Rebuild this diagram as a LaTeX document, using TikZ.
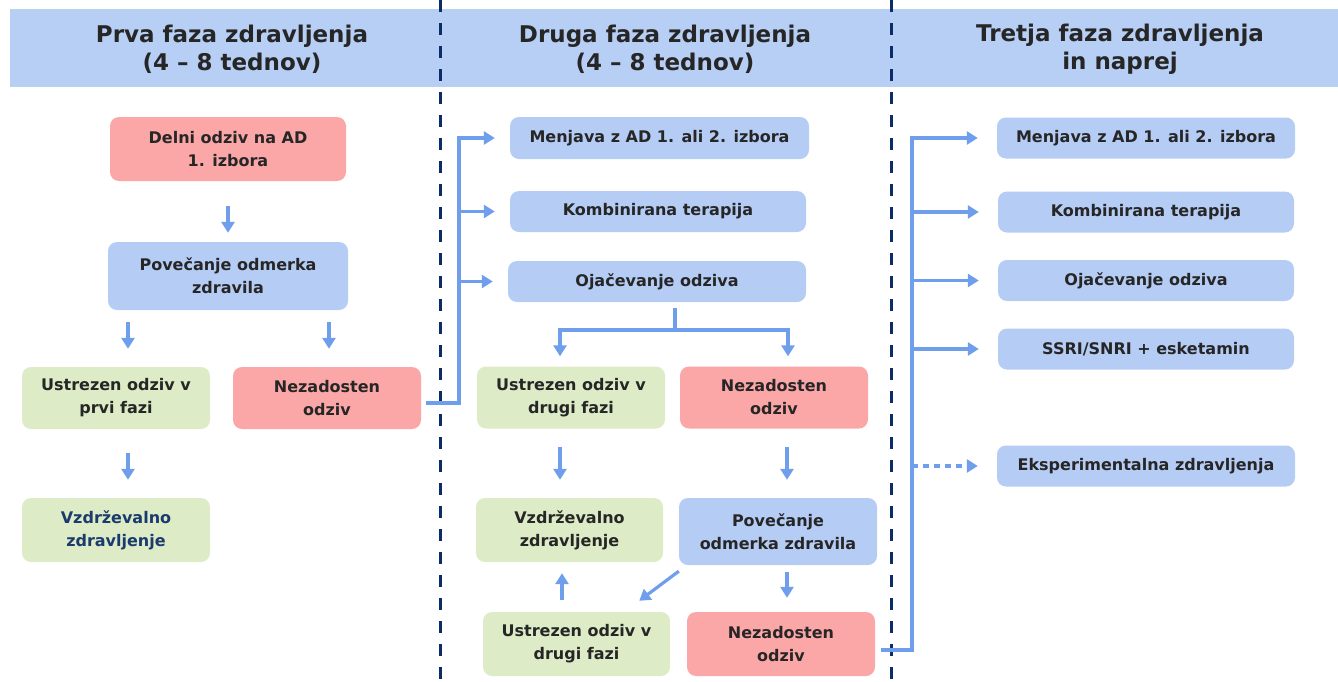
\documentclass[tikz,border=0pt]{standalone}
\usepackage{fontspec}
\setmainfont{DejaVu Sans}
\usetikzlibrary{arrows.meta}
\definecolor{hdrblue}{HTML}{B7CEF5}
\definecolor{boxblue}{HTML}{B5CCF5}
\definecolor{boxred}{HTML}{FBA7A7}
\definecolor{boxgreen}{HTML}{DDECC6}
\definecolor{linkblue}{HTML}{6F9FEC}
\definecolor{divnavy}{HTML}{0C2C68}
\definecolor{txtgray}{HTML}{262626}
\definecolor{txtnavy}{HTML}{1B3A6E}
\tikzset{
  box/.style={rounded corners=9pt, align=center, inner sep=0pt, text=txtgray,
    font=\bfseries\fontsize{16}{23}\selectfont},
  bluebox/.style={box, fill=boxblue},
  redbox/.style={box, fill=boxred},
  greenbox/.style={box, fill=boxgreen},
  title/.style={align=center, text=txtgray, font=\bfseries\fontsize{23}{28}\selectfont},
  conn/.style={draw=linkblue, line width=3.2pt},
  arr/.style={conn, -{Triangle[width=13pt,length=11pt]}},
  divider/.style={draw=divnavy, line width=3pt, dash pattern=on 12pt off 11pt},
}
\begin{document}
\begin{tikzpicture}[x=1pt,y=-1pt]
  \useasboundingbox (0,0) rectangle (1338,681);
  % header band
  \fill[hdrblue] (10,9) rectangle (1338,87);
  \node[title] (t1) at (232,49) {Prva faza zdravljenja\\(4 -- 8 tednov)};
  \node[title] (t2) at (665,49) {Druga faza zdravljenja\\(4 -- 8 tednov)};
  \node[title] (t3) at (1120,49) {Tretja faza zdravljenja\\in naprej};
  \draw[divider] (440,0) -- (440,681);
  \draw[divider] (891,0) -- (891,681);
  % first phase
  \node[redbox, minimum width=236, minimum height=64] (del1) at (228,149) {Delni odziv na AD\\1. izbora};
  \node[bluebox, minimum width=240, minimum height=68] (pov1) at (228,276) {Povečanje odmerka\\zdravila};
  \node[greenbox, minimum width=188, minimum height=62] (ust1) at (116,398) {Ustrezen odziv v\\prvi fazi};
  \node[redbox, minimum width=188, minimum height=62] (nez1) at (327,398) {Nezadosten\\odziv};
  \node[greenbox, minimum width=188, minimum height=64, text=txtnavy] (vzd1) at (116,530) {Vzdrževalno\\zdravljenje};
  % second phase
  \node[bluebox, minimum width=299, minimum height=42] (men2) at (659.5,138) {Menjava z AD 1. ali 2. izbora};
  \node[bluebox, minimum width=296, minimum height=41] (kom2) at (658,211.5) {Kombinirana terapija};
  \node[bluebox, minimum width=298, minimum height=41] (oja2) at (657,281.5) {Ojačevanje odziva};
  \node[greenbox, minimum width=188, minimum height=62] (ust2) at (571,397.5) {Ustrezen odziv v\\drugi fazi};
  \node[redbox, minimum width=188, minimum height=62] (nez2) at (774,397.5) {Nezadosten\\odziv};
  \node[greenbox, minimum width=187, minimum height=64] (vzd2) at (569.5,530) {Vzdrževalno\\zdravljenje};
  \node[bluebox, minimum width=198, minimum height=67] (pov2) at (778,531.5) {Povečanje\\odmerka zdravila};
  \node[greenbox, minimum width=187, minimum height=64] (ust3) at (576.5,644) {Ustrezen odziv v\\drugi fazi};
  \node[redbox, minimum width=188, minimum height=64] (nez3) at (781,644) {Nezadosten\\odziv};
  % third phase
  \node[bluebox, minimum width=298, minimum height=41] (men3) at (1146,138) {Menjava z AD 1. ali 2. izbora};
  \node[bluebox, minimum width=296, minimum height=41] (kom3) at (1146,212) {Kombinirana terapija};
  \node[bluebox, minimum width=296, minimum height=41] (oja3) at (1146,280.5) {Ojačevanje odziva};
  \node[bluebox, minimum width=296, minimum height=41] (ssri3) at (1146,349) {SSRI/SNRI + esketamin};
  \node[bluebox, minimum width=298, minimum height=41] (eks3) at (1146,466) {Eksperimentalna zdravljenja};
  % arrows, first phase
  \draw[arr, shorten <=25pt, shorten >=9pt] (del1.south) -- (pov1.north);
  \draw[arr, shorten <=12pt, shorten >=18pt] ([xshift=12pt]ust1.north |- pov1.south) -- ([xshift=12pt]ust1.north);
  \draw[arr, shorten <=12pt, shorten >=18pt] ([xshift=2pt]nez1.north |- pov1.south) -- ([xshift=2pt]nez1.north);
  \draw[arr, shorten <=24pt, shorten >=18pt] ([xshift=12pt]ust1.south) -- ([xshift=12pt]vzd1.north);
  % arrows, second phase
  \coordinate (bus2) at (459,0);
  \draw[arr, shorten <=5pt, shorten >=15pt] ([yshift=-5pt]nez1.east) -| (bus2 |- men2.west) -- (men2.west);
  \foreach \n in {kom2,oja2}
    \draw[arr, shorten >=15pt] (bus2 |- \n.west) -- (\n.west);
  \coordinate (split2) at (675,330);
  \draw[conn, shorten <=6pt] (oja2.south -| split2) -- (split2);
  \draw[arr, shorten >=10pt] (split2) -| ([xshift=-11pt]ust2.north);
  \draw[arr, shorten >=10pt] (split2) -| ([xshift=14pt]nez2.north);
  \draw[arr, shorten <=18pt, shorten >=18pt] ([xshift=-11pt]ust2.south) -- ([xshift=-11pt]ust2.south |- vzd2.north);
  \draw[arr, shorten <=18pt, shorten >=18pt] ([xshift=13pt]nez2.south) -- ([xshift=13pt]nez2.south |- pov2.north);
  \draw[arr, shorten <=7pt, shorten >=14pt] ([xshift=6pt]nez3.north |- pov2.south) -- ([xshift=6pt]nez3.north);
  \draw[arr] ([yshift=-6pt]pov2.south west) -- ([xshift=-31pt,yshift=11pt]ust3.north east);
  \draw[arr, shorten <=12pt, shorten >=11pt] ([xshift=-14.5pt]ust3.north) -- ([xshift=-14.5pt]ust3.north |- vzd2.south);
  % arrows, third phase
  \coordinate (bus3) at (912,0);
  \draw[arr, shorten <=6pt, shorten >=19pt] ([yshift=-6pt]nez3.east) -| (bus3 |- men3.west) -- (men3.west);
  \foreach \n in {kom3,oja3,ssri3}
    \draw[arr, shorten >=19pt] (bus3 |- \n.west) -- (\n.west);
  \draw[arr, dash pattern=on 6pt off 5pt, shorten >=19pt] (bus3 |- eks3.west) -- (eks3.west);
\end{tikzpicture}
\end{document}
